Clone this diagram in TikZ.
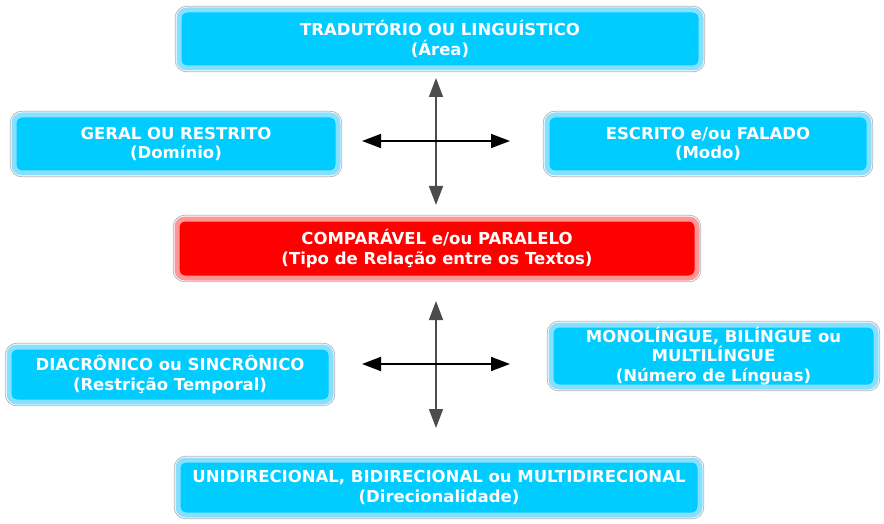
\documentclass[tikz,border=0pt]{standalone}
\usepackage{fontspec}
\setmainfont{DejaVu Sans}
\usepackage{tikz}
\usetikzlibrary{arrows.meta,shapes,calc,positioning}
\definecolor{azul}{RGB}{0,204,255}
\definecolor{azulclaro}{RGB}{135,224,255}
\definecolor{vermelho}{RGB}{255,0,0}
\definecolor{vermelhoclaro}{RGB}{255,150,150}
\definecolor{borda}{RGB}{180,180,180}

\begin{document}
\begin{tikzpicture}[x=1pt, y=-1pt, ultra thick, >={Triangle[length=19pt,width=14pt]}]
   \useasboundingbox (0,0) rectangle (884,524);
   \begin{scope}[every node/.style={rectangle, rounded corners=8pt, fill=azul,
       preaction={draw=borda, line width=8.4pt}, preaction={draw=white, line width=6.6pt},
       draw=azulclaro, line width=5pt,
       text=white, font=\bfseries\fontsize{16.5}{19.5}\selectfont, align=center, inner sep=0pt}]
    \node (area) [minimum width=522pt, minimum height=58pt] at (440,39) {TRADUTÓRIO OU LINGUÍSTICO\\(Área)};
    \node (dominio) [minimum width=324pt, minimum height=58pt] at (176,144) {GERAL OU RESTRITO\\(Domínio)};
    \node (modo) [minimum width=322pt, minimum height=58pt] at (708,144) {ESCRITO e/ou FALADO\\(Modo)};
    \node (relacao) [fill=vermelho, draw=vermelhoclaro, minimum width=520pt, minimum height=59pt] at (437,248.5) {COMPARÁVEL e/ou PARALELO\\(Tipo de Relação entre os Textos)};
    \node (linguas) [minimum width=325pt, minimum height=62pt] at (713.5,356) {MONOLÍNGUE, BILÍNGUE ou\\MULTILÍNGUE\\(Número de Línguas)};
    \node (temporal) [minimum width=322pt, minimum height=55pt] at (170,374.5) {DIACRÔNICO ou SINCRÔNICO\\(Restrição Temporal)};
    \node (direcao) [minimum width=522pt, minimum height=55pt] at (439,487.5) {UNIDIRECIONAL, BIDIRECIONAL ou MULTIDIRECIONAL\\(Direcionalidade)};
   \end{scope}
   % setas em cruz
   \coordinate (a1) at (436,78);  \coordinate (a2) at (436,205);
   \coordinate (a3) at (362,141); \coordinate (a4) at (510,141);
   \coordinate (b1) at (436,301); \coordinate (b2) at (436,428);
   \coordinate (b3) at (362,364); \coordinate (b4) at (510,364);
   \begin{scope}[<->, line width=1.5pt]
    \draw [black!70] (a1) -- (a2);
    \draw (a3) -- (a4);
    \draw [black!70] (b1) -- (b2);
    \draw (b3) -- (b4);
   \end{scope}
\end{tikzpicture}
\end{document}
